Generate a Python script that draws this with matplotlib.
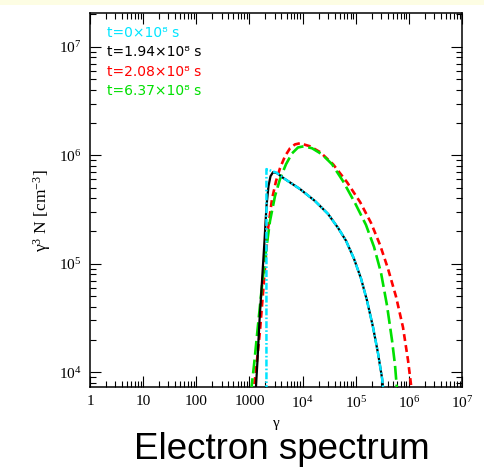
import matplotlib
matplotlib.use("Agg")
import matplotlib.pyplot as plt
from matplotlib.ticker import FixedLocator, FixedFormatter, LogLocator, NullFormatter
from matplotlib.patches import Rectangle

# gamma^3 N(gamma) at four times
gam_t0 = [2090, 2090, 3260, 4285, 8950, 1.71e4, 3.01e4, 4.65e4, 6.57e4, 9.29e4,
          1.26e5, 1.63e5, 2.12e5, 2.63e5, 3.13e5, 3.41e5]
spec_t0 = [5000, 7.45e5, 6.9e5, 6.2e5, 4.88e5, 3.79e5, 2.88e5, 2.14e5, 1.63e5, 1.11e5,
           7.28e4, 4.58e4, 2.59e4, 1.49e4, 8800, 6000]

gam_t1 = [1301, 1419, 1548, 1726, 1921, 2094, 2285, 2492, 2780, 3304, 4285, 8950,
          1.71e4, 3.01e4, 4.65e4, 6.57e4, 9.29e4, 1.26e5, 1.63e5, 2.12e5, 2.63e5,
          3.13e5, 3.41e5]
spec_t1 = [6150, 1.29e4, 3.0e4, 6.98e4, 1.63e5, 3.40e5, 5.2e5, 6.41e5, 6.98e5, 6.84e5,
           6.2e5, 4.88e5, 3.79e5, 2.88e5, 2.14e5, 1.63e5, 1.11e5, 7.28e4, 4.58e4,
           2.59e4, 1.49e4, 8800, 6000]

gam_t2 = [1168, 1330, 1582, 1880, 2236, 2660, 3164, 3760, 4670, 5800, 7210, 8950,
          1.38e4, 2.13e4, 3.74e4, 6.85e4, 1.21e5, 1.94e5, 2.87e5, 4.05e5, 5.73e5,
          7.76e5, 9.64e5, 1.10e6, 1.15e6]
spec_t2 = [6150, 1.04e4, 2.43e4, 6.98e4, 2.09e5, 3.94e5, 5.77e5, 7.6e5, 9.8e5, 1.16e6,
           1.26e6, 1.29e6, 1.21e6, 1.07e6, 8.27e5, 5.65e5, 3.70e5, 2.38e5, 1.49e5,
           9.0e4, 4.98e4, 2.59e4, 1.29e4, 7600, 6000]

gam_t3 = [1071, 1220, 1449, 1726, 2051, 2438, 3030, 3760, 4880, 6320, 8200, 1.06e4,
          1.51e4, 2.32e4, 3.58e4, 5.77e4, 9.7e4, 1.56e5, 2.21e5, 2.99e5, 3.88e5,
          4.82e5, 5.49e5, 5.99e5]
spec_t3 = [6560, 1.16e4, 2.70e4, 6.28e4, 1.32e5, 2.48e5, 4.21e5, 6.03e5, 8.27e5, 1.04e6,
           1.18e6, 1.21e6, 1.16e6, 1.02e6, 8.27e5, 5.77e5, 3.63e5, 2.28e5, 1.43e5,
           8.26e4, 4.12e4, 1.97e4, 1.16e4, 6840]

labels = ["t=0\u00d710\u2078 s", "t=1.94\u00d710\u2078 s",
          "t=2.08\u00d710\u2078 s", "t=6.37\u00d710\u2078 s"]
colors = ["#00e5ff", "black", "#ff0000", "#00e000"]

xticks = [1, 10, 100, 1000, 1e4, 1e5, 1e6, 1e7]
xticklabels = ["1", "10", "100", "1000", r"$10^4$", r"$10^5$", r"$10^6$", r"$10^7$"]
yticks = [1e4, 1e5, 1e6, 1e7]
yticklabels = [r"$10^4$", r"$10^5$", r"$10^6$", r"$10^7$"]

plt.rcParams["font.family"] = ["Liberation Serif", "DejaVu Serif"]
plt.rcParams["mathtext.fontset"] = "custom"
plt.rcParams["mathtext.rm"] = "Liberation Serif"
plt.rcParams["mathtext.it"] = "Liberation Serif:italic"
plt.rcParams["lines.scale_dashes"] = False

fig = plt.figure(figsize=(4.84, 4.67), dpi=100)
fig.patches.append(Rectangle((0, 1 - 5 / 467), 1, 5 / 467, transform=fig.transFigure,
                             facecolor="#fdfde3", edgecolor="none"))
ax = fig.add_axes([90 / 484, 80 / 467, 372 / 484, 374 / 467])

ax.plot(gam_t2, spec_t2, color=colors[2], lw=1.9, dashes=(5, 3), zorder=2)
ax.plot(gam_t3, spec_t3, color=colors[3], lw=1.9, dashes=(10, 3.5), zorder=3)
ax.plot(gam_t1, spec_t1, color=colors[1], lw=1.6, zorder=4)
ax.plot(gam_t0, spec_t0, color=colors[0], lw=1.8, dashes=(5, 1.5, 1.2, 1.5), zorder=5)

ax.set_xscale("log")
ax.set_yscale("log")
ax.set_xlim(1, 1e7)
ax.set_ylim(7300, 2.05e7)

ax.xaxis.set_major_locator(FixedLocator(xticks))
ax.xaxis.set_major_formatter(FixedFormatter(xticklabels))
ax.yaxis.set_major_locator(FixedLocator(yticks))
ax.yaxis.set_major_formatter(FixedFormatter(yticklabels))
for axis in (ax.xaxis, ax.yaxis):
    axis.set_minor_locator(LogLocator(base=10, subs=range(2, 10), numticks=20))
    axis.set_minor_formatter(NullFormatter())

ax.tick_params(which="both", direction="in", top=True, right=True, width=0.8,
               labelsize=11, colors="black")
ax.tick_params(which="major", length=8, pad=6)
ax.tick_params(which="minor", length=4)
for s in ax.spines.values():
    s.set_linewidth(1.1)

ax.set_xlabel("\u03b3", fontsize=11, labelpad=4)
ax.set_ylabel("\u03b3$^3$ N [cm$^{-3}$]", fontsize=12.5)
ax.yaxis.set_label_coords(-0.10, 0.47)

for i, (lab, c) in enumerate(zip(labels, colors)):
    fig.text(107 / 484, 1 - (33 + 19.3 * i) / 467, lab, color=c, fontsize=10,
             family="DejaVu Sans", va="center", ha="left")

fig.text(282 / 484, 1 - 459 / 467, "Electron spectrum", fontsize=26.5,
         family="Liberation Sans", ha="center", va="baseline")

fig.savefig("out.png", dpi=100)
